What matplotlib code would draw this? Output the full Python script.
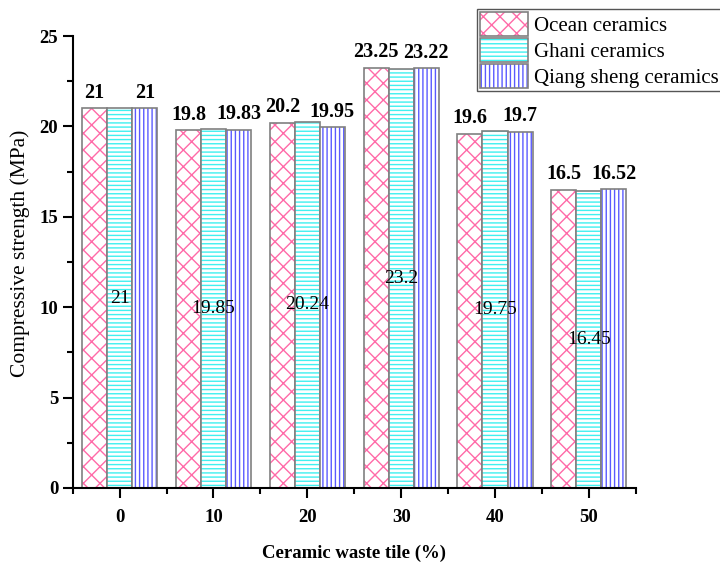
import numpy as np
import matplotlib
matplotlib.use("Agg")
import matplotlib.pyplot as plt
from matplotlib.patches import Patch
from matplotlib.ticker import MultipleLocator

plt.rcParams['font.family'] = ['Liberation Serif', 'DejaVu Serif']
plt.rcParams['hatch.linewidth'] = 1.0

# Compressive strength by ceramic waste tile replacement
waste_pct = ['0', '10', '20', '30', '40', '50']
ocean = [21, 19.8, 20.2, 23.25, 19.6, 16.5]
ghani = [21, 19.85, 20.24, 23.2, 19.75, 16.45]
qiang = [21, 19.83, 19.95, 23.22, 19.7, 16.52]

series = [
    ('Ocean ceramics', ocean, '#ff6aa8', 'xx'),
    ('Ghani ceramics', ghani, '#3ff0f0', '----'),
    ('Qiang sheng ceramics', qiang, '#5a5aff', '||||'),
]

edge = '#808080'
width = 0.267
x = np.arange(len(waste_pct))

fig = plt.figure(figsize=(7.2, 5.64), dpi=100)
ax = fig.add_axes([0.101, 0.135, 0.782, 0.801])

handles = []
for i, (name, vals, col, hatch) in enumerate(series):
    pos = x + (i - 1) * width
    # hatch drawn in the series colour, outline drawn separately in grey
    ax.bar(pos, vals, width, color='white', edgecolor=col, hatch=hatch, linewidth=0)
    ax.bar(pos, vals, width, fill=False, edgecolor=edge, linewidth=1.2)
    handles.append((Patch(facecolor='white', edgecolor=col, hatch=hatch, linewidth=0),
                    Patch(fill=False, edgecolor=edge, linewidth=1.2)))

    for p, v in zip(pos, vals):
        if i == 1:
            ax.text(p, v / 2, f'{v:g}', ha='center', va='center', fontsize=14,
                    fontweight='medium')
        else:
            ax.text(p, v + 0.3, f'{v:g}', ha='center', va='bottom',
                    fontsize=14.5, fontweight='bold')

ax.set_xlim(-0.5, len(waste_pct) - 0.5)
ax.set_ylim(0, 25)
ax.set_xticks(x)
ax.set_xticklabels(waste_pct)
ax.set_xticks(np.arange(-0.5, len(waste_pct)), minor=True)
ax.yaxis.set_major_locator(MultipleLocator(5))
ax.yaxis.set_minor_locator(MultipleLocator(2.5))

ax.tick_params(which='major', length=7, width=1.5, direction='out', labelsize=13.5)
ax.tick_params(which='minor', length=4, width=1.5, direction='out')
ax.tick_params(axis='x', pad=8)
for lab in ax.get_xticklabels() + ax.get_yticklabels():
    lab.set_fontweight('bold')

for s in ['top', 'right']:
    ax.spines[s].set_visible(False)
for s in ['left', 'bottom']:
    ax.spines[s].set_linewidth(1.5)

ax.set_xlabel('Ceramic waste tile (%)', fontweight='bold', fontsize=13.5, labelpad=14)
ax.set_ylabel('Compressive strength (MPa)', fontsize=15.5)
ax.yaxis.set_label_coords(-0.075, 0.52)

fig.legend(handles, [s[0] for s in series], loc='upper left',
           bbox_to_anchor=(477 / 720, 1 - 9 / 564), borderaxespad=0,
           fontsize=15, fancybox=False, edgecolor='#555555', framealpha=1,
           handlelength=2.3, handleheight=1.35, handletextpad=0.3,
           labelspacing=0.12, borderpad=0.15)

fig.savefig('out.png', dpi=100)
